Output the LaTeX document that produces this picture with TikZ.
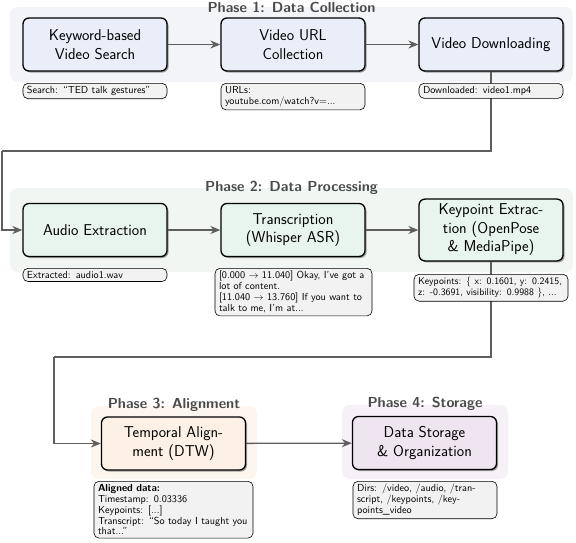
\documentclass[tikz,border=0pt]{standalone}
\usetikzlibrary{arrows.meta,shadows}
\renewcommand{\familydefault}{\sfdefault}
\definecolor{bgA}{HTML}{F2F4F7}
\definecolor{fillA}{HTML}{E9EEF8}
\definecolor{bgB}{HTML}{F1F6F3}
\definecolor{fillB}{HTML}{E8F4EE}
\definecolor{bgC}{HTML}{FDF6EE}
\definecolor{fillC}{HTML}{FCF1E4}
\definecolor{bgD}{HTML}{F6F1F7}
\definecolor{fillD}{HTML}{EFE5F0}
\definecolor{annfill}{HTML}{F2F2F2}
\definecolor{arrcol}{HTML}{5E5E5E}
\definecolor{titlecol}{HTML}{4A4A4A}
\tikzset{
  phasebg/.style={fill=#1, rounded corners=8pt, draw=none},
  phasetitle/.style={anchor=base, text=titlecol, font=\fontsize{14.5}{17}\selectfont\bfseries, inner sep=0pt},
  stepbox/.style={draw=black, line width=1.3pt, rounded corners=6pt, fill=#1,
    minimum width=144pt, minimum height=53pt, inner xsep=8pt, inner ysep=5pt,
    align=center, font=\fontsize{15.7}{18.5}\selectfont,
    drop shadow={shadow xshift=1.5pt, shadow yshift=-1.5pt, opacity=0.35, fill=black}},
  annot/.style={draw=black, line width=0.6pt, rounded corners=5pt, fill=annfill,
    anchor=north, inner xsep=4pt, inner ysep=3pt, align=left, text width=#1,
    font=\fontsize{10.2}{10.9}\selectfont},
  arr/.style={draw=arrcol, line width=1.3pt, -{Stealth[length=10pt,width=8pt]}},
  conn/.style={draw=arrcol, line width=1.3pt}
}
\begin{document}
\begin{tikzpicture}[x=1pt,y=-1pt]
\useasboundingbox (0,0) rectangle (576,542);
% phase backgrounds
\fill[phasebg=bgA] (10,7) rectangle (573,82);
\fill[phasebg=bgB] (10,188) rectangle (573,272);
\fill[phasebg=bgC] (91,406) rectangle (257,479);
\fill[phasebg=bgD] (342,405) rectangle (508,479);
\node[phasetitle] (t1) at (291.5,12) {Phase 1: Data Collection};
\node[phasetitle] (t2) at (291.5,191) {Phase 2: Data Processing};
\node[phasetitle] (t3) at (174,408) {Phase 3: Alignment};
\node[phasetitle] (t4) at (425,407.5) {Phase 4: Storage};
% step boxes
\node[stepbox=fillA] (kw) at (95,44.5) {Keyword-based\\Video Search};
\node[stepbox=fillA] (url) at (293,44.5) {Video URL\\Collection};
\node[stepbox=fillA] (vd) at (491,44.5) {Video Downloading};
\node[stepbox=fillB] (ae) at (95,230) {Audio Extraction};
\node[stepbox=fillB] (tr) at (293,230) {Transcription\\(Whisper ASR)};
\node[stepbox=fillB] (kp) at (491,230) {Keypoint Extrac-\\tion (OpenPose\\\& MediaPipe)};
\node[stepbox=fillC] (ta) at (173.5,443.5) {Temporal Align-\\ment (DTW)};
\node[stepbox=fillD] (ds) at (424.5,443) {Data Storage\\\& Organization};
% connectors
\coordinate (c1) at (2,151);
\coordinate (c2) at (54,357);
\draw[arr] (kw) -- (url);
\draw[arr] (url) -- (vd);
\draw[conn] (vd.south) |- (c1);
\draw[arr] (c1) |- (ae.west);
\draw[arr] (ae) -- (tr);
\draw[arr] (tr) -- (kp);
\draw[conn] (kp.south) |- (c2);
\draw[arr] (c2) |- (ta.west);
\draw[arr] (ta) -- (ds);
% annotations
\node[annot=136pt] (a1) at (95,83) {Search: ``TED talk gestures''};
\node[annot=136pt] (a2) at (293,83) {URLs:\\youtube.com/watch?v=...};
\node[annot=136pt] (a3) at (491,83) {Downloaded: video1.mp4};
\node[annot=136pt] (a4) at (95,268) {Extracted: audio1.wav};
\node[annot=149pt] (a5) at (293.5,268) {\mbox{{[}0.000 $\rightarrow$ 11.040{]} Okay, I've got a}\\lot of content.\\\mbox{{[}11.040 $\rightarrow$ 13.760{]} If you want to}\\talk to me, I'm at...};
\node[annot=146pt, font=\fontsize{9.8}{10.9}\selectfont] (a6) at (491,274) {\mbox{Keypoints: $\{$ x: 0.1601, y: 0.2415,}\\\mbox{z: -0.3691, visibility: 0.9988 $\}$, ...}};
\node[annot=151pt] (a7) at (173.5,481) {\textbf{Aligned data:}\\Timestamp: 0.03336\\Keypoints: {[}...{]}\\\mbox{Transcript: ``So today I taught you}\\that...''};
\node[annot=136pt] (a8) at (425,481) {Dirs: /video, /audio, /tran-\\script, /keypoints, /key-\\points\_video};
\end{tikzpicture}
\end{document}
